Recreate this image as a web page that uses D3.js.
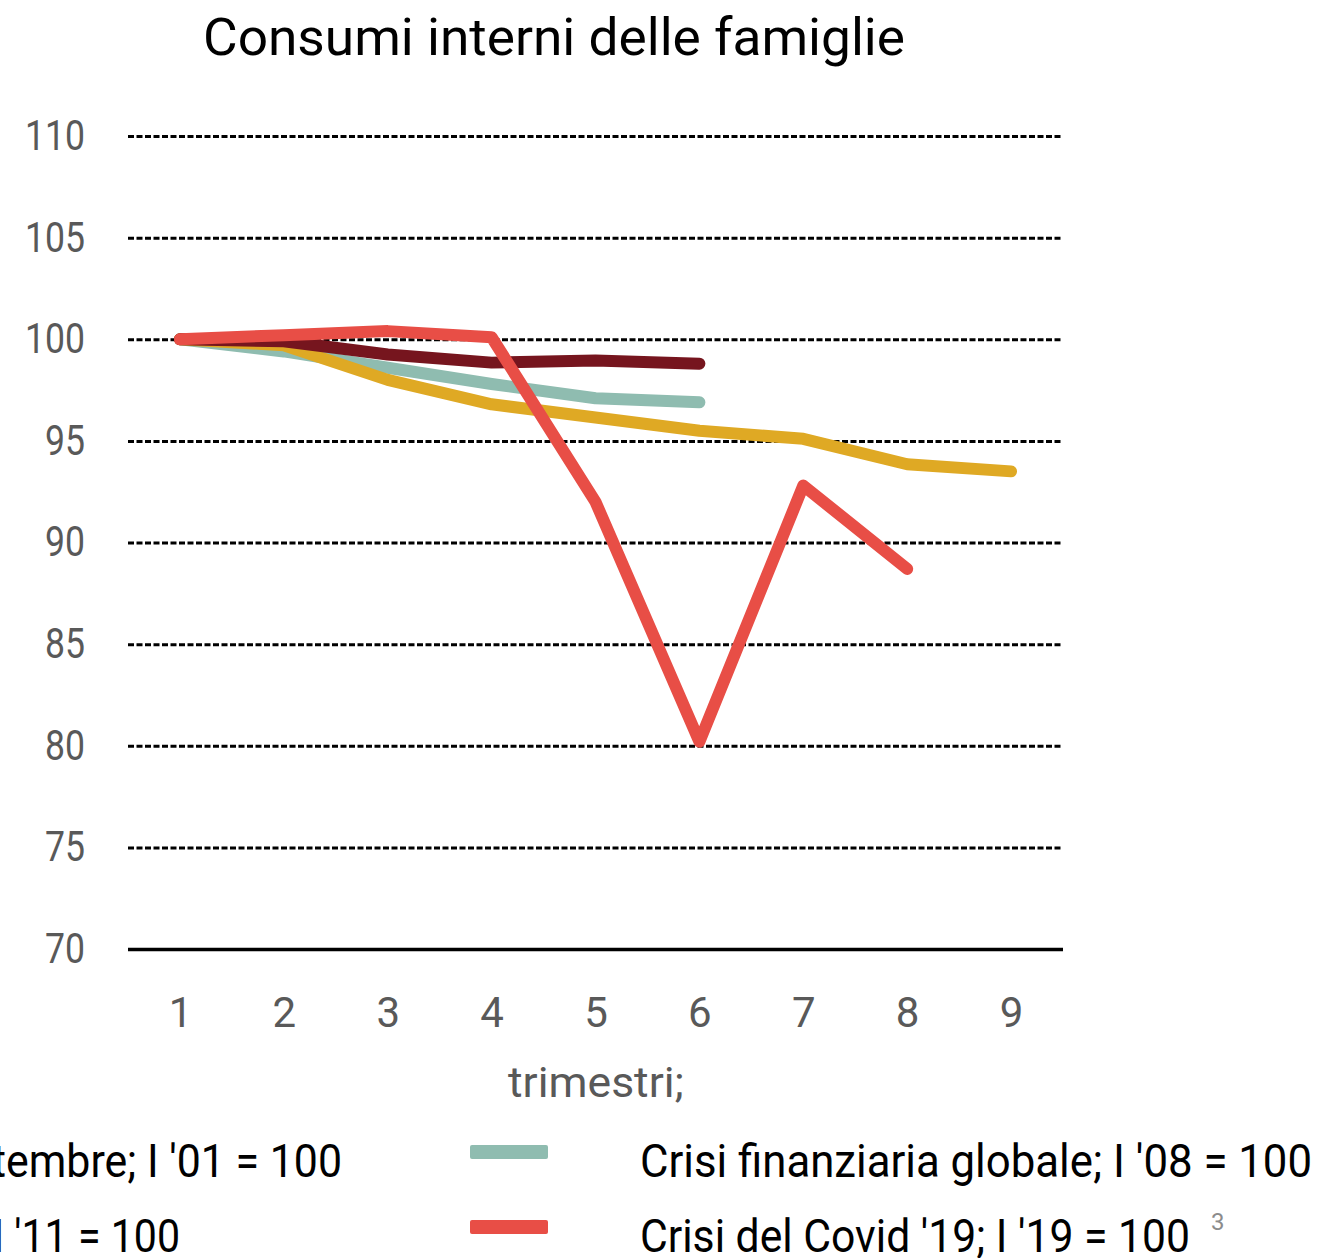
<!DOCTYPE html>
<html>
<head>
<meta charset="utf-8">
<script src="https://cdn.jsdelivr.net/npm/d3@7"></script>
<style>
  body { margin: 0; background: #fff; overflow: hidden; }
  svg { display: block; font-family: Roboto, "Liberation Sans", sans-serif; }
</style>
</head>
<body>
<svg id="chart" width="1320" height="1258"></svg>
<script>
// trimestri dall'inizio della crisi
var quarters = [1, 2, 3, 4, 5, 6, 7, 8, 9];
var yTicks = [70, 75, 80, 85, 90, 95, 100, 105, 110];

var settembre = [100, 99.9, 99.25, 98.85, 98.95, 98.8];
var finanziaria = [100, 99.4, 98.6, 97.8, 97.1, 96.9];
var debito = [100, 99.7, 98.0, 96.8, 96.15, 95.5, 95.1, 93.85, 93.5];
var covid = [100, 100.2, 100.4, 100.1, 92.0, 80.2, 92.8, 88.7];

var seriesNames = [
  "Attentato dell'11 settembre; I '01 = 100",
  "Crisi finanziaria globale; I '08 = 100",
  "Crisi del debito sovrano; I '11 = 100",
  "Crisi del Covid '19; I '19 = 100"
];

var svg = d3.select('#chart');
var m = { left: 128, right: 1063, top: 136, bottom: 949 };

var x = d3.scalePoint().domain(quarters).range([m.left, m.right]).padding(0.5);
var y = d3.scaleLinear().domain([70, 110]).range([m.bottom, m.top]);

svg.append('text')
  .attr('x', 203).attr('y', 55)
  .attr('font-size', 52)
  .attr('textLength', 702).attr('lengthAdjust', 'spacingAndGlyphs')
  .attr('fill', '#000')
  .text('Consumi interni delle famiglie');

// griglia + etichette asse y
var yAxis = svg.append('g')
  .attr('transform', 'translate(' + m.left + ',0)')
  .call(d3.axisLeft(y).tickValues(yTicks).tickSize(-(m.right - m.left)).tickPadding(43));
yAxis.select('.domain').remove();
yAxis.selectAll('.tick line')
  .attr('stroke', '#000')
  .attr('stroke-width', function(d) { return d === 70 ? 3.5 : 3; })
  .attr('stroke-dasharray', function(d) { return d === 70 ? null : '6,2.5'; });
yAxis.selectAll('.tick text')
  .attr('font-size', 42).attr('fill', '#595959')
  .attr('font-family', 'Roboto, sans-serif')
  .attr('textLength', function(d) { return String(d).length * 20; })
  .attr('lengthAdjust', 'spacingAndGlyphs');

var xAxis = svg.append('g')
  .attr('transform', 'translate(0,' + m.bottom + ')')
  .call(d3.axisBottom(x).tickSize(0).tickPadding(48));
xAxis.select('.domain').remove();
xAxis.selectAll('.tick text')
  .attr('font-size', 42).attr('fill', '#595959')
  .attr('font-family', 'Roboto, sans-serif');

svg.append('text')
  .attr('x', 596).attr('y', 1097)
  .attr('text-anchor', 'middle')
  .attr('font-size', 42).attr('fill', '#595959')
  .attr('textLength', 176).attr('lengthAdjust', 'spacingAndGlyphs')
  .text('trimestri;');

var line = d3.line()
  .x(function(d, i) { return x(quarters[i]); })
  .y(function(d) { return y(d); });

var series = [
  { values: finanziaria, color: '#8fbcb0' },
  { values: debito, color: '#dfa924' },
  { values: settembre, color: '#76151e' },
  { values: covid, color: '#e84e46' }
];

svg.append('g').selectAll('path')
  .data(series)
  .enter().append('path')
  .attr('d', function(d) { return line(d.values); })
  .attr('fill', 'none')
  .attr('stroke', function(d) { return d.color; })
  .attr('stroke-width', 12)
  .attr('stroke-linecap', 'round')
  .attr('stroke-linejoin', 'round');

// legenda (colonna sinistra tagliata dal bordo)
var legend = [
  { name: seriesNames[0], color: '#76151e', tx: 342, ty: 1177, anchor: 'end', f: 0.98 },
  { name: seriesNames[2], color: '#dfa924', tx: 180, ty: 1252, anchor: 'end', f: 0.94 },
  { name: seriesNames[1], color: '#8fbcb0', tx: 640, ty: 1177, anchor: 'start', len: 672 },
  { name: seriesNames[3], color: '#e84e46', tx: 640, ty: 1252, anchor: 'start', len: 550 }
];

var lg = svg.append('g').selectAll('g').data(legend).enter().append('g');
var lt = lg.append('text')
  .attr('x', function(d) { return d.tx; })
  .attr('y', function(d) { return d.ty; })
  .attr('text-anchor', function(d) { return d.anchor; })
  .attr('font-size', 46).attr('fill', '#000')
  .text(function(d) { return d.name; });

// stessa compressione per le voci tagliate, presa dalla voce piu lunga
var k = 672 / lt.filter(function(d) { return d.name === seriesNames[1]; }).node().getComputedTextLength();
lt.each(function(d) {
  d.w = d.len || this.getComputedTextLength() * k * d.f;
  d3.select(this).attr('textLength', d.w).attr('lengthAdjust', 'spacingAndGlyphs');
});

lg.append('rect')
  .attr('x', function(d) { return d.anchor === 'start' ? 470 : d.tx - d.w - 170; })
  .attr('y', function(d) { return d.ty - 32; })
  .attr('width', 78).attr('height', 14).attr('rx', 2)
  .attr('fill', function(d) { return d.color; });

svg.append('text')
  .attr('x', 1211).attr('y', 1230)
  .attr('font-size', 24).attr('fill', '#8c8c8c')
  .text('3');
</script>
</body>
</html>
